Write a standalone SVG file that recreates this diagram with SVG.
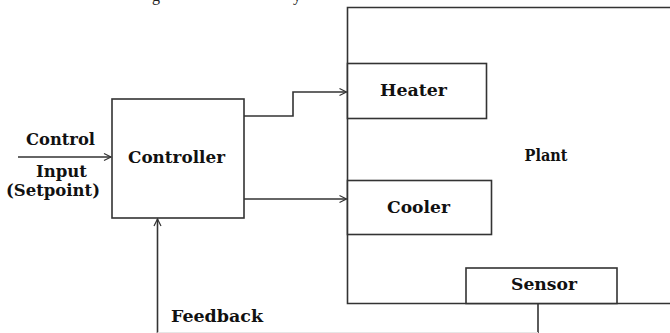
<svg xmlns="http://www.w3.org/2000/svg" width="670" height="333" viewBox="0 0 670 333">
<style>
.ln{fill:none;stroke:#333;stroke-width:1.6}
.bx{fill:#fff;stroke:#333;stroke-width:1.6}
.t{font-family:"DejaVu Serif","Liberation Serif",serif;font-weight:bold;font-size:17px;fill:#111;text-anchor:middle}
.s{font-size:16px}
.frag{font-family:"Liberation Serif",serif;font-size:16px;fill:#222}
</style>
<defs>
<marker id="ah" markerWidth="10" markerHeight="10" refX="8" refY="5" orient="auto" markerUnits="userSpaceOnUse">
<path d="M1,1.5 L8,5 L1,8.5" fill="none" stroke="#333" stroke-width="1.2"/>
</marker>
</defs>
<rect width="670" height="333" fill="#fff"/>
<text class="frag" x="152" y="1">g</text>
<text class="frag" x="293" y="1">y</text>
<g id="plant">
<path class="ln" d="M670,7.5 H347.5 V303.5 H670"/>
<text class="t" x="546" y="161" textLength="43" lengthAdjust="spacingAndGlyphs">Plant</text>
</g>
<g id="heater">
<rect class="bx" x="347.5" y="63.5" width="139" height="55"/>
<text class="t" x="413.5" y="96" textLength="67" lengthAdjust="spacingAndGlyphs">Heater</text>
</g>
<g id="cooler">
<rect class="bx" x="347.5" y="180.5" width="144" height="54"/>
<text class="t" x="418.5" y="213" textLength="63" lengthAdjust="spacingAndGlyphs">Cooler</text>
</g>
<g id="sensor">
<rect class="bx" x="466" y="268" width="151" height="35.5"/>
<text class="t" x="544" y="290" textLength="66" lengthAdjust="spacingAndGlyphs">Sensor</text>
</g>
<g id="controller">
<rect class="bx" x="112" y="99" width="132" height="119"/>
<text class="t" x="176.5" y="163" textLength="97" lengthAdjust="spacingAndGlyphs">Controller</text>
</g>
<g id="input-label">
<text class="t" x="60.5" y="145" textLength="69" lengthAdjust="spacingAndGlyphs">Control</text>
<text class="t s" x="61.5" y="177" textLength="51" lengthAdjust="spacingAndGlyphs">Input</text>
<text class="t s" x="53" y="196" textLength="94" lengthAdjust="spacingAndGlyphs">(Setpoint)</text>
</g>
<g id="feedback-label">
<text class="t" x="217" y="322" textLength="92" lengthAdjust="spacingAndGlyphs">Feedback</text>
</g>
<g id="connectors">
<path class="ln" d="M18,157 H111" marker-end="url(#ah)"/>
<path class="ln" d="M244,116 H293 V92 H346.5" marker-end="url(#ah)"/>
<path class="ln" d="M244,199 H346.5" marker-end="url(#ah)"/>
<path class="ln" d="M538,303.5 V333"/>
<path class="ln" d="M157.5,333 V219" marker-end="url(#ah)"/>
<path d="M157.5,332.5 H538" fill="none" stroke="#e6e6e6" stroke-width="1"/>
</g>
</svg>
